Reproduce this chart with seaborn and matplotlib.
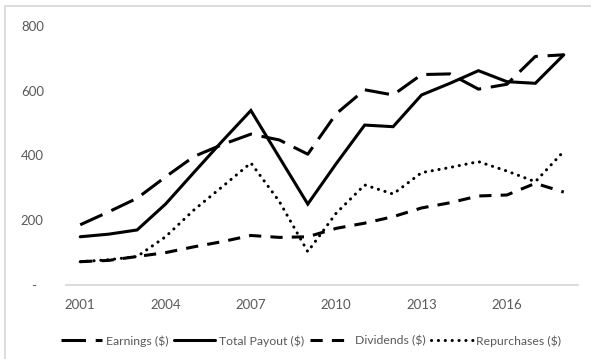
import matplotlib
matplotlib.use("Agg")
import matplotlib.pyplot as plt
import matplotlib.patches as mpatches
import seaborn as sns
import pandas as pd

years = list(range(2001, 2019))
earnings = [186, 226, 268, 334, 397, 434, 466, 448, 404, 529, 603, 587, 650, 652, 605, 620, 706, 711]
total_payout = [149, 157, 170, 250, 348, 445, 539, 394, 250, 375, 494, 489, 587, 623, 662, 628, 623, 711]
dividends = [72, 76, 88, 100, 118, 134, 153, 147, 149, 175, 191, 211, 238, 254, 275, 278, 314, 287]
repurchases = [72, 78, 88, 149, 232, 304, 377, 258, 103, 222, 309, 281, 347, 363, 381, 352, 319, 413]

series_names = ["Earnings ($)", "Total Payout ($)", "Dividends ($)", "Repurchases ($)"]
y_ticks = [0, 200, 400, 600, 800]
y_tick_labels = ["-  ", "200", "400", "600", "800"]
x_ticks = [2001, 2004, 2007, 2010, 2013, 2016]

df = pd.DataFrame({
    "year": years * 4,
    "value": earnings + total_payout + dividends + repurchases,
    "series": sum([[n] * len(years) for n in series_names], []),
})

sns.set_theme(style="white")
plt.rcParams["font.family"] = ["Lato", "DejaVu Sans"]

text_gray = "#595959"
fig = plt.figure(figsize=(5.91, 3.59), dpi=100)
ax = fig.add_axes([66 / 591, 1 - 285 / 359, 512 / 591, 259 / 359])

lw = 2.2
styles = {
    "Earnings ($)": dict(dashes=(8, 3.2), dash_capstyle="butt"),
    "Total Payout ($)": dict(linestyle="-"),
    "Dividends ($)": dict(dashes=(4, 3), dash_capstyle="butt"),
    "Repurchases ($)": dict(dashes=(0.05, 2.2), dash_capstyle="round"),
}

for name in series_names:
    sub = df[df["series"] == name]
    sns.lineplot(data=sub, x="year", y="value", ax=ax, color="black",
                 linewidth=lw, label=name, **styles[name])

for line in ax.get_lines():
    line.set_solid_joinstyle("miter")

ax.set_xlim(2000.5, 2018.5)
ax.set_ylim(0, 800)
ax.set_xticks(x_ticks)
ax.set_xticklabels([str(t) for t in x_ticks])
ax.set_yticks(y_ticks)
ax.set_yticklabels(y_tick_labels)
ax.set_xlabel("")
ax.set_ylabel("")
ax.tick_params(axis="x", length=0, pad=10, labelsize=9.5, labelcolor=text_gray)
ax.tick_params(axis="y", length=0, pad=16, labelsize=9.5, labelcolor=text_gray)

for side in ["top", "right", "left"]:
    ax.spines[side].set_visible(False)
ax.spines["bottom"].set_color("#d9d9d9")
ax.spines["bottom"].set_linewidth(1.3)

handles, labels = ax.get_legend_handles_labels()
leg = ax.legend(handles, labels, loc="center", bbox_to_anchor=(311 / 591, 1 - 341 / 359),
                bbox_transform=fig.transFigure, ncol=4, frameon=False,
                fontsize=8.8, handlelength=3.4, handletextpad=0.3, columnspacing=0.45,
                borderpad=0, borderaxespad=0)
for t in leg.get_texts():
    t.set_color(text_gray)

# light frame around the chart area
frame = mpatches.Rectangle((5 / 591, -0.01), 1.02 - 5 / 591, 1 - 6 / 359 + 0.01,
                           transform=fig.transFigure, fill=False,
                           edgecolor="#d9d9d9", linewidth=1.3, clip_on=False)
fig.patches.append(frame)

fig.savefig("out.png", dpi=100)
